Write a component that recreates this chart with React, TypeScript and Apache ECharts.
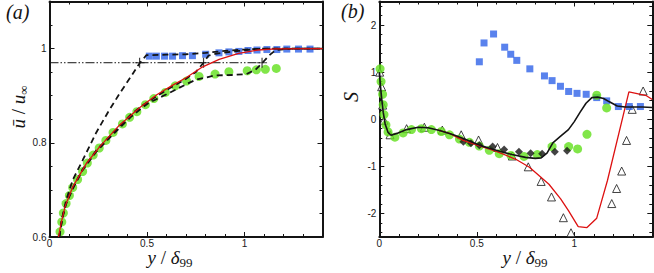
import React, { useEffect, useRef } from "react";
import * as echarts from "echarts";

// ---------- axes ----------
const xMajor = [0, 0.5, 1];
const xMinor = [0.1, 0.2, 0.3, 0.4, 0.6, 0.7, 0.8, 0.9, 1.1, 1.2, 1.3];
const aYMajor = [0.6, 0.8, 1];
const aYMinor = [0.65, 0.7, 0.75, 0.85, 0.9, 0.95, 1.05];
const bYMajor = [-2, -1, 0, 1, 2];
const bYMinor = [-2.4, -2.2, -1.8, -1.6, -1.4, -1.2, -0.8, -0.6, -0.4, -0.2, 0.2, 0.4, 0.6, 0.8, 1.2, 1.4, 1.6, 1.8, 2.2, 2.4];

// ---------- panel (a) ----------
const aRefX = [0, 1.1];
const aRefY = [0.97, 0.97];
const aPlusX = [0.462, 0.79, 1.09];
const aPlusY = [0.97, 0.97, 0.97];

const aRedX = [0.046, 0.06, 0.08, 0.12, 0.19, 0.26, 0.36, 0.46, 0.55, 0.63, 0.7, 0.78, 0.87, 0.97, 1.07, 1.16, 1.4];
const aRedY = [0.6, 0.63, 0.665, 0.707, 0.757, 0.793, 0.838, 0.874, 0.902, 0.922, 0.938, 0.96, 0.977, 0.99, 0.997, 0.9995, 1.0];

const aDashAX = [0.05, 0.065, 0.085, 0.12, 0.17, 0.24, 0.3, 0.36, 0.42, 0.462, 0.497, 0.6, 0.7, 0.8, 0.9, 1.0, 1.1, 1.4];
const aDashAY = [0.6, 0.64, 0.678, 0.722, 0.763, 0.822, 0.865, 0.905, 0.942, 0.969, 0.986, 0.987, 0.988, 0.991, 0.995, 0.998, 1.0, 1.0];

const aDashBX = [0.05, 0.065, 0.085, 0.12, 0.17, 0.24, 0.3, 0.36, 0.42, 0.48, 0.55, 0.62, 0.69, 0.75, 0.79, 0.815, 0.85, 0.97, 1.06, 1.16, 1.4];
const aDashBY = [0.6, 0.64, 0.672, 0.705, 0.744, 0.784, 0.81, 0.836, 0.861, 0.88, 0.899, 0.917, 0.933, 0.95, 0.97, 0.985, 0.989, 0.995, 0.999, 1.0, 1.0];

const aDashCX = [0.05, 0.065, 0.085, 0.12, 0.17, 0.24, 0.3, 0.36, 0.42, 0.48, 0.51, 0.6, 0.7, 0.75, 0.85, 0.94, 1.01, 1.056, 1.09, 1.125, 1.16, 1.25, 1.4];
const aDashCY = [0.6, 0.638, 0.67, 0.703, 0.742, 0.781, 0.807, 0.832, 0.856, 0.876, 0.885, 0.903, 0.924, 0.934, 0.943, 0.944, 0.946, 0.955, 0.969, 0.985, 0.997, 1.0, 1.0];

const aBlueX = [0.512, 0.548, 0.59, 0.631, 0.682, 0.733, 0.801, 0.869, 0.92, 0.971, 1.018, 1.064, 1.115, 1.166, 1.217, 1.277, 1.336];
const aBlueY = [0.984, 0.984, 0.984, 0.984, 0.985, 0.985, 0.988, 0.991, 0.993, 0.994, 0.996, 0.997, 0.998, 0.998, 0.999, 0.999, 0.999];

const aGreenX = [0.054, 0.063, 0.071, 0.085, 0.102, 0.119, 0.144, 0.17, 0.194, 0.224, 0.255, 0.289, 0.326, 0.374, 0.411, 0.448, 0.492, 0.535, 0.594, 0.645, 0.703, 0.767, 0.849, 0.92, 1.014, 1.061, 1.107, 1.163];
const aGreenY = [0.611, 0.632, 0.651, 0.671, 0.688, 0.705, 0.722, 0.739, 0.757, 0.774, 0.789, 0.805, 0.822, 0.84, 0.854, 0.866, 0.881, 0.894, 0.907, 0.921, 0.931, 0.941, 0.946, 0.951, 0.953, 0.955, 0.956, 0.958];

// ---------- panel (b) ----------
const bBlackX = [0, 0.005, 0.012, 0.02, 0.03, 0.045, 0.06, 0.09, 0.14, 0.2, 0.25, 0.31, 0.38, 0.45, 0.52, 0.6, 0.68, 0.75, 0.8, 0.83, 0.86, 0.89, 0.93, 0.97, 1.0, 1.03, 1.06, 1.09, 1.12, 1.15, 1.18, 1.22, 1.26, 1.3, 1.35, 1.4];
const bBlackY = [1.0, 0.75, 0.45, 0.15, -0.1, -0.28, -0.34, -0.3, -0.22, -0.17, -0.18, -0.24, -0.33, -0.44, -0.56, -0.66, -0.75, -0.81, -0.83, -0.82, -0.72, -0.5, -0.36, -0.22, -0.05, 0.15, 0.34, 0.46, 0.47, 0.44, 0.37, 0.28, 0.26, 0.26, 0.26, 0.25];

const bRedX = [0.3, 0.36, 0.43, 0.51, 0.6, 0.7, 0.77, 0.82, 0.87, 0.93, 0.97, 1.02, 1.065, 1.115, 1.17, 1.28, 1.37, 1.4];
const bRedY = [-0.23, -0.3, -0.45, -0.56, -0.68, -0.85, -1.02, -1.2, -1.38, -1.69, -1.94, -2.28, -2.3, -2.1, -1.3, 0.58, 0.5, 0.42];

const bTriX = [0.002, 0.012, 0.017, 0.024, 0.055, 0.14, 0.231, 0.323, 0.42, 0.509, 0.606, 0.682, 0.764, 0.83, 0.883, 0.944, 0.983, 1.192, 1.217, 1.243, 1.268, 1.297, 1.353];
const bTriY = [1.0, 0.69, 0.3, -0.02, -0.33, -0.2, -0.17, -0.23, -0.33, -0.44, -0.6, -0.78, -1.01, -1.32, -1.65, -2.09, -2.41, -1.79, -1.47, -1.1, -0.45, 0.21, 0.6];

const bBlueX = [0.513, 0.537, 0.586, 0.643, 0.674, 0.705, 0.772, 0.847, 0.886, 0.929, 0.971, 1.014, 1.061, 1.115, 1.166, 1.226, 1.282, 1.339];
const bBlueY = [1.22, 1.62, 1.81, 1.53, 1.38, 1.25, 1.07, 0.92, 0.82, 0.7, 0.59, 0.55, 0.53, 0.46, 0.39, 0.27, 0.27, 0.27];

const bGreenX = [0.004, 0.009, 0.017, 0.02, 0.024, 0.034, 0.045, 0.08, 0.122, 0.165, 0.216, 0.267, 0.318, 0.36, 0.411, 0.462, 0.513, 0.564, 0.615, 0.675, 0.742, 0.81, 0.886, 0.971, 1.017, 1.065, 1.115, 1.166];
const bGreenY = [1.07, 0.8, 0.53, 0.31, 0.1, -0.12, -0.27, -0.38, -0.29, -0.22, -0.2, -0.22, -0.26, -0.33, -0.42, -0.49, -0.57, -0.66, -0.73, -0.77, -0.79, -0.75, -0.58, -0.58, -0.63, -0.32, 0.51, 0.24];

const bDiaX = [0.431, 0.47, 0.513, 0.581, 0.64, 0.716, 0.776, 0.835, 0.9, 0.963];
const bDiaY = [-0.48, -0.51, -0.55, -0.58, -0.64, -0.69, -0.72, -0.73, -0.69, -0.67];

// ---------- helpers ----------
const zip = (xs: number[], ys: number[]) => xs.map((x, i) => [x, ys[i]]);
const INK = "#141414";
const BLUE = "#2f63e8";
const GREEN = "#62e01c";
const RED = "#dd1111";
const SANS = "'Liberation Sans', Arial, sans-serif";
const SERIF = "'Liberation Serif', 'Times New Roman', serif";

function axis(
  gridIndex: number,
  position: string,
  min: number,
  max: number,
  ticks: number[],
  len: number,
  withLine: boolean,
  labels: number[] | null,
  margin: number
) {
  return {
    type: "value",
    gridIndex,
    position,
    min,
    max,
    axisLine: { show: withLine, onZero: false, lineStyle: { color: INK, width: 2 } },
    axisTick: { show: true, inside: true, length: len, customValues: ticks, lineStyle: { color: INK, width: 1 } },
    axisLabel: labels
      ? {
          show: true,
          customValues: labels,
          margin,
          color: "#1a1a1a",
          fontFamily: SANS,
          fontSize: 10,
          formatter: (v: number) => String(v),
        }
      : { show: false },
    splitLine: { show: false },
    minorTick: { show: false },
  };
}

function xAxes(g: number) {
  return [
    axis(g, "bottom", 0, 1.4, xMajor, 5, true, xMajor, 1),
    axis(g, "bottom", 0, 1.4, xMinor, 3, false, null, 0),
    axis(g, "top", 0, 1.4, xMajor, 5, true, null, 0),
    axis(g, "top", 0, 1.4, xMinor, 3, false, null, 0),
  ];
}
function yAxes(g: number, min: number, max: number, major: number[], minor: number[]) {
  return [
    axis(g, "left", min, max, major, 5, true, major, 3),
    axis(g, "left", min, max, minor, 3, false, null, 0),
    axis(g, "right", min, max, major, 5, true, null, 0),
    axis(g, "right", min, max, minor, 3, false, null, 0),
  ];
}

function lineSeries(ax: number, xs: number[], ys: number[], color: string, width: number, type: any) {
  return {
    type: "line",
    xAxisIndex: ax,
    yAxisIndex: ax,
    data: zip(xs, ys),
    showSymbol: false,
    symbol: "none",
    lineStyle: { color, width, type },
    silent: true,
  };
}
function scatterSeries(ax: number, xs: number[], ys: number[], symbol: string, size: number, itemStyle: any) {
  return {
    type: "scatter",
    xAxisIndex: ax,
    yAxisIndex: ax,
    data: zip(xs, ys),
    symbol,
    symbolSize: size,
    itemStyle,
    clip: false,
    silent: true,
  };
}

export default function App() {
  const ref = useRef<HTMLDivElement>(null);
  useEffect(() => {
    if (!ref.current) return;
    const chart = echarts.init(ref.current, null, { renderer: "svg" });
    const titleRich = {
      i: { font: `italic 19px ${SERIF}`, fill: INK },
      n: { font: `19px ${SERIF}`, fill: INK },
      s: { font: `13px ${SERIF}`, fill: INK, padding: [10, 0, 0, 0] },
    };
    chart.setOption({
      animation: false,
      backgroundColor: "#ffffff",
      grid: [
        { left: 49.5, top: 1.5, width: 273, height: 235.5 },
        { left: 379.3, top: 1.5, width: 273, height: 235.5 },
      ],
      xAxis: [...xAxes(0), ...xAxes(1)],
      yAxis: [
        ...yAxes(0, 0.6, 1.1, aYMajor, aYMinor),
        ...yAxes(1, -2.5, 2.5, bYMajor, bYMinor),
      ],
      series: [
        lineSeries(0, aRefX, aRefY, INK, 1, [9, 2, 1.5, 2, 1.5, 2]),
        lineSeries(0, aDashAX, aDashAY, INK, 1.8, [6, 4]),
        lineSeries(0, aDashBX, aDashBY, INK, 1.8, [6, 4]),
        lineSeries(0, aDashCX, aDashCY, INK, 1.8, [6, 4]),
        lineSeries(0, aRedX, aRedY, RED, 1.3, "solid"),
        scatterSeries(0, aBlueX, aBlueY, "rect", 7, { color: BLUE }),
        scatterSeries(0, aGreenX, aGreenY, "circle", 9, { color: GREEN }),
        scatterSeries(0, aPlusX, aPlusY, "path://M0,5L10,5M5,0L5,10", 10, {
          color: "none",
          borderColor: INK,
          borderWidth: 1.2,
        }),

        lineSeries(4, bRedX, bRedY, RED, 1.3, "solid"),
        lineSeries(4, bBlackX, bBlackY, INK, 1.6, "solid"),
        scatterSeries(4, bTriX, bTriY, "triangle", 8, { color: "#ffffff", borderColor: INK, borderWidth: 1 }),
        scatterSeries(4, bBlueX, bBlueY, "rect", 7, { color: BLUE }),
        scatterSeries(4, bGreenX, bGreenY, "circle", 9, { color: GREEN }),
        scatterSeries(4, bDiaX, bDiaY, "diamond", 8, { color: INK }),
      ],
      graphic: [
        { type: "text", left: 6, top: 2, style: { text: "(a)", font: `italic 20px ${SERIF}`, fill: INK } },
        { type: "text", left: 341, top: 1, style: { text: "(b)", font: `italic 20px ${SERIF}`, fill: INK } },
        {
          type: "text",
          x: 170,
          y: 257,
          style: { text: "{i|y}{n| / }{i|δ}{s|99}", rich: titleRich, align: "center", verticalAlign: "middle" },
        },
        {
          type: "text",
          x: 525,
          y: 257,
          style: { text: "{i|y}{n| / }{i|δ}{s|99}", rich: titleRich, align: "center", verticalAlign: "middle" },
        },
        {
          type: "text",
          x: 18,
          y: 107,
          rotation: Math.PI / 2,
          style: { text: "{i|ū}{n| / }{i|u}{s|∞}", rich: titleRich, align: "center", verticalAlign: "middle" },
        },
        {
          type: "text",
          x: 351,
          y: 97,
          rotation: Math.PI / 2,
          style: { text: "S", font: `italic 20px ${SERIF}`, fill: INK, align: "center", verticalAlign: "middle" },
        },
      ],
    });
    return () => chart.dispose();
  }, []);
  return (
    <div
      ref={ref}
      style={{ position: "fixed", left: 0, top: 0, width: 654, height: 273, background: "#fff" }}
    />
  );
}
